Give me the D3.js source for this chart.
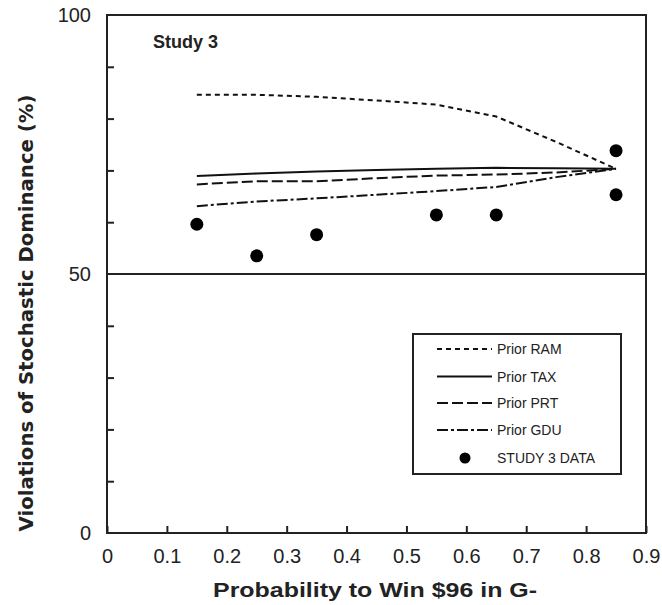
<!DOCTYPE html>
<html>
<head>
<meta charset="utf-8">
<script src="https://cdn.jsdelivr.net/npm/d3@7"></script>
<style>
  body { margin: 0; background: #fff; }
  svg text { font-family: "Liberation Sans", Arial, Helvetica, sans-serif; fill: #222; }
</style>
</head>
<body>
<div id="chart"></div>
<script>
// data (Study 3)
var probs = [0.15, 0.25, 0.35, 0.45, 0.55, 0.65, 0.75, 0.85];
var priorRAM = [84.6, 84.6, 84.2, 83.5, 82.7, 80.4, 75.5, 70.3];
var priorTAX = [68.9, 69.4, 69.8, 70.1, 70.3, 70.5, 70.4, 70.3];
var priorPRT = [67.3, 67.9, 67.9, 68.5, 69.0, 69.2, 69.6, 70.3];
var priorGDU = [63.1, 64.0, 64.6, 65.3, 66.0, 66.8, 68.7, 70.3];
var dataX = [0.15, 0.25, 0.35, 0.55, 0.65, 0.85, 0.85];
var dataY = [59.6, 53.5, 57.6, 61.4, 61.4, 73.8, 65.3];
var xTicks = [0, 0.1, 0.2, 0.3, 0.4, 0.5, 0.6, 0.7, 0.8, 0.9];
var yLabels = [0, 50, 100];
var yMinor = [10, 20, 30, 40, 60, 70, 80, 90];

var W = 662, H = 605;
var margin = {left: 107, right: 16, top: 15, bottom: 72};

var svg = d3.select("#chart").append("svg")
    .attr("width", W)
    .attr("height", H);

var x = d3.scaleLinear().domain([0, 0.9]).range([margin.left, W - margin.right]);
var y = d3.scaleLinear().domain([0, 100]).range([H - margin.bottom, margin.top]);

var stroke = "#222";

// x axis (ticks point inward)
var xAxis = svg.append("g")
    .attr("transform", "translate(0," + y(0) + ")")
    .call(d3.axisBottom(x).tickValues(xTicks).tickSizeInner(-7).tickSizeOuter(0).tickPadding(16)
        .tickFormat(function(d) { return d === 0 ? "0" : d3.format(".1f")(d); }));
xAxis.select(".domain").remove();
xAxis.selectAll("line").attr("stroke", stroke).attr("stroke-width", 2);
xAxis.selectAll("text").style("font-size", "20px").style("fill", "#222");

// y axis labels
var yAxis = svg.append("g")
    .attr("transform", "translate(" + x(0) + ",0)")
    .call(d3.axisLeft(y).tickValues(yLabels).tickSize(0).tickPadding(16));
yAxis.select(".domain").remove();
yAxis.selectAll("text").style("font-size", "20px").style("fill", "#222");

// y minor ticks
var yTickAxis = svg.append("g")
    .attr("transform", "translate(" + x(0) + ",0)")
    .call(d3.axisLeft(y).tickValues(yMinor).tickSizeInner(-7).tickSizeOuter(0).tickFormat(""));
yTickAxis.select(".domain").remove();
yTickAxis.selectAll("line").attr("stroke", stroke).attr("stroke-width", 2);

// frame
svg.append("rect")
    .attr("x", x(0)).attr("y", y(100))
    .attr("width", x(0.9) - x(0)).attr("height", y(0) - y(100))
    .attr("fill", "none").attr("stroke", stroke).attr("stroke-width", 2);

// 50% reference line
svg.append("line")
    .attr("x1", x(0)).attr("x2", x(0.9))
    .attr("y1", y(50)).attr("y2", y(50))
    .attr("stroke", stroke).attr("stroke-width", 2);

// model lines
var series = [
    {name: "Prior RAM", values: priorRAM, dash: "5,4"},
    {name: "Prior TAX", values: priorTAX, dash: null},
    {name: "Prior PRT", values: priorPRT, dash: "11,4"},
    {name: "Prior GDU", values: priorGDU, dash: "11,3,3,3"}
];

var line = d3.line()
    .x(function(d, i) { return x(probs[i]); })
    .y(function(d) { return y(d); });

series.forEach(function(s) {
    svg.append("path")
        .datum(s.values)
        .attr("d", line)
        .attr("fill", "none")
        .attr("stroke", "#111")
        .attr("stroke-width", 2)
        .attr("stroke-dasharray", s.dash);
});

// observed data
svg.selectAll(".dot")
    .data(dataX)
    .enter().append("circle")
    .attr("class", "dot")
    .attr("cx", function(d) { return x(d); })
    .attr("cy", function(d, i) { return y(dataY[i]); })
    .attr("r", 6.5)
    .attr("fill", "#000");

// study label
svg.append("text")
    .attr("x", 153).attr("y", 48)
    .style("font-size", "18px").style("font-weight", "bold")
    .text("Study 3");

// legend
var lg = svg.append("g");
lg.append("rect")
    .attr("x", 413).attr("y", 334)
    .attr("width", 208).attr("height", 140)
    .attr("fill", "#fff").attr("stroke", stroke).attr("stroke-width", 2);

var rowY = [349, 376.5, 403, 430];
series.forEach(function(s, i) {
    lg.append("line")
        .attr("x1", 437).attr("x2", 492)
        .attr("y1", rowY[i]).attr("y2", rowY[i])
        .attr("stroke", "#111").attr("stroke-width", 2)
        .attr("stroke-dasharray", s.dash);
    lg.append("text")
        .attr("x", 497).attr("y", rowY[i]).attr("dy", "0.36em")
        .style("font-size", "14px")
        .text(s.name);
});
lg.append("circle")
    .attr("cx", 465).attr("cy", 458).attr("r", 5.5).attr("fill", "#000");
lg.append("text")
    .attr("x", 497).attr("y", 458).attr("dy", "0.36em")
    .style("font-size", "14px")
    .text("STUDY 3 DATA");

// axis titles
svg.append("text")
    .attr("x", 375).attr("y", 597)
    .attr("text-anchor", "middle")
    .attr("textLength", 324)
    .attr("lengthAdjust", "spacingAndGlyphs")
    .style("font-size", "21px").style("font-weight", "bold")
    .text("Probability to Win $96 in G-");

svg.append("text")
    .attr("transform", "translate(33," + 313 + ") rotate(-90)")
    .attr("text-anchor", "middle")
    .attr("textLength", 437)
    .attr("lengthAdjust", "spacingAndGlyphs")
    .style("font-family", "'DejaVu Sans', Verdana, sans-serif")
    .style("font-size", "19px").style("font-weight", "bold")
    .text("Violations of Stochastic Dominance (%)");
</script>
</body>
</html>
